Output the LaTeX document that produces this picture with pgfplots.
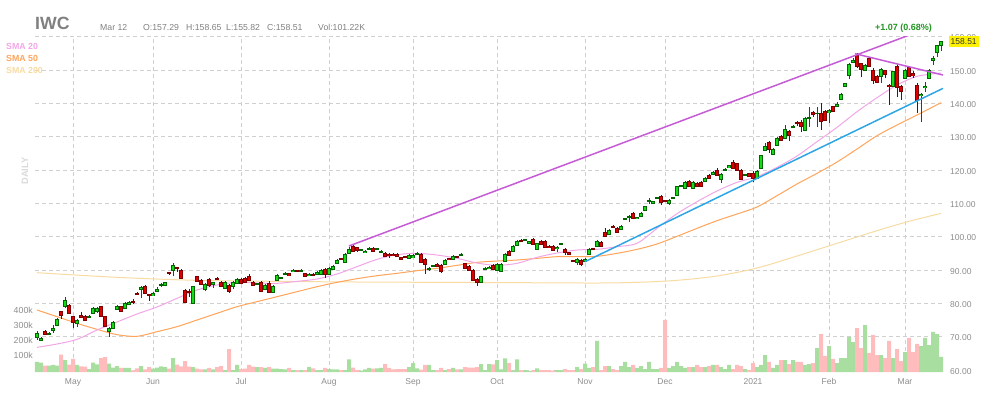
\documentclass[border=0pt]{standalone}
\usepackage{pgfplots}
\pgfplotsset{compat=1.18}
\usepackage{pgfplotstable}
\usepackage{fontspec}
\setmainfont{Liberation Sans}

\definecolor{txtgray}{RGB}{140,140,140}
\definecolor{hdrgray}{RGB}{128,128,128}
\definecolor{gridgray}{RGB}{208,208,208}
\definecolor{upfill}{RGB}{20,220,20}
\definecolor{upline}{RGB}{0,100,0}
\definecolor{dnfill}{RGB}{222,0,0}
\definecolor{dnline}{RGB}{125,0,0}
\definecolor{volup}{RGB}{168,222,160}
\definecolor{voldn}{RGB}{255,188,188}
\definecolor{smaA}{RGB}{242,166,230}
\definecolor{smaB}{RGB}{255,164,90}
\definecolor{smaC}{RGB}{247,219,163}
\definecolor{trendP}{RGB}{198,91,214}
\definecolor{trendB}{RGB}{46,166,230}
\definecolor{upgreen}{RGB}{34,150,34}
\definecolor{dailygray}{RGB}{218,218,218}

\pgfplotstableread{
i o h l c v
0 69.9 71.7 69.0 71.1 67
1 69.0 70.0 68.6 69.6 62
2 71.7 71.9 70.6 70.8 42
3 70.8 71.3 70.4 71.0 42
4 72.0 73.4 71.0 72.6 47
5 73.5 75.6 73.3 75.3 42
6 77.5 77.8 75.2 76.5 116
7 79.0 81.8 78.5 81.0 80
8 79.5 79.7 76.8 77.0 49
9 76.0 76.3 72.6 74.4 87
10 74.0 75.4 72.8 75.0 47
11 76.4 77.3 75.5 75.9 38
12 76.2 76.4 74.8 75.0 36
13 75.9 76.4 75.6 76.1 20
14 77.0 78.8 76.8 78.5 62
15 77.5 78.9 77.2 78.6 51
16 79.0 79.2 75.8 76.0 93
17 76.0 76.2 72.8 73.0 100
18 71.5 73.0 69.8 72.5 56
19 72.6 74.6 72.4 74.4 29
20 78.3 79.5 78.0 79.2 40
21 79.0 79.2 77.5 77.7 27
22 78.6 80.3 78.4 80.0 27
23 79.8 80.6 79.5 80.3 27
24 80.5 81.2 79.9 80.3 11
25 83.0 83.4 82.4 82.7 24
26 84.2 85.2 81.5 84.8 40
27 85.2 85.5 82.8 83.0 18
28 82.7 82.9 80.8 82.4 33
29 82.3 83.3 82.1 83.0 22
30 83.7 84.9 83.5 84.2 29
31 85.3 86.0 85.0 85.6 38
32 85.3 86.4 85.1 86.2 33
33 89.2 89.5 88.6 88.9 22
34 90.0 92.2 88.3 91.5 93
35 90.7 91.0 89.5 90.4 49
36 90.0 90.2 87.4 87.6 38
37 84.0 84.2 80.2 80.4 73
38 83.7 84.3 82.0 83.4 36
39 80.0 85.3 79.8 85.0 33
40 88.0 88.3 86.3 86.5 22
41 87.0 87.2 85.5 85.8 18
42 84.3 86.0 83.8 85.8 18
43 87.3 87.5 85.0 85.5 27
44 85.8 86.5 84.6 86.2 18
45 87.5 87.8 87.0 87.2 33
46 86.4 86.6 84.8 85.0 40
47 84.6 86.6 84.4 86.4 13
48 85.5 85.7 83.0 83.7 153
49 85.0 86.6 84.3 86.4 13
50 86.0 87.5 85.8 87.3 47
51 87.3 87.5 85.8 86.0 20
52 87.6 87.8 86.2 86.4 22
53 88.2 88.8 86.8 87.0 47
54 86.4 86.6 85.3 85.5 36
55 85.7 86.2 85.4 85.9 33
56 86.4 86.6 83.5 83.7 33
57 84.3 85.8 84.1 85.5 27
58 86.0 86.8 83.2 83.4 33
59 83.4 85.4 83.2 85.2 22
60 87.0 88.7 86.8 88.5 22
61 87.5 88.0 87.3 87.7 20
62 88.7 89.3 88.4 88.9 18
63 88.9 89.1 88.1 88.3 27
64 89.5 90.2 89.3 90.0 13
65 89.9 90.1 89.5 89.7 11
66 89.7 90.4 89.4 89.9 13
67 89.0 89.2 87.8 88.0 13
68 88.4 89.0 88.2 88.8 33
69 88.7 89.1 88.3 88.5 24
70 88.6 89.6 88.4 89.4 11
71 88.6 90.2 88.4 90.0 13
72 90.3 90.5 87.5 88.6 27
73 88.8 90.8 88.6 90.6 20
74 90.3 91.5 90.1 91.2 18
75 92.0 93.2 91.8 93.0 18
76 93.5 93.7 93.0 93.2 13
77 92.4 95.0 92.2 94.8 13
78 95.0 96.8 94.8 96.3 84
79 97.2 97.6 95.5 95.7 29
80 96.8 97.0 95.5 95.8 13
81 95.9 96.4 95.7 96.1 9
82 95.3 95.9 95.1 95.7 18
83 96.2 96.8 96.0 96.4 27
84 96.6 96.8 95.5 95.7 22
85 96.2 96.6 95.9 96.4 24
86 95.3 95.9 95.0 95.5 27
87 95.1 95.3 94.0 94.2 53
88 94.8 95.0 93.6 94.3 27
89 94.8 95.0 94.2 94.4 18
90 94.8 95.0 93.8 94.0 20
91 93.8 94.0 93.1 93.3 20
92 94.1 94.3 93.7 93.9 20
93 93.6 94.7 93.4 94.5 33
94 93.7 94.8 93.5 94.4 60
95 94.7 95.3 94.5 94.9 24
96 94.8 95.0 92.2 92.4 16
97 93.3 93.5 88.8 91.8 47
98 90.2 90.8 89.8 90.4 47
99 91.1 91.6 90.8 91.3 13
100 91.8 92.0 90.8 91.0 13
101 91.5 91.7 89.0 89.7 27
102 91.8 93.2 91.6 93.0 13
103 93.5 93.7 92.9 93.1 20
104 93.3 94.4 93.1 94.2 27
105 94.1 94.3 93.7 93.9 18
106 94.4 95.0 94.2 94.6 18
107 92.0 92.2 90.4 90.6 33
108 91.2 91.4 89.8 90.0 29
109 90.0 90.2 86.8 87.0 29
110 87.3 87.5 85.3 86.4 33
111 86.4 88.2 86.2 88.0 53
112 90.2 90.8 89.9 90.4 13
113 90.5 91.1 90.3 90.9 53
114 91.5 91.7 90.1 90.3 51
115 90.0 92.0 89.8 91.8 80
116 89.7 92.0 89.5 91.8 18
117 92.7 95.0 92.5 94.8 91
118 95.7 95.9 94.3 94.5 60
119 95.7 97.4 95.5 97.2 11
120 97.5 98.9 97.3 98.7 84
121 98.8 99.2 98.3 98.5 11
122 98.9 99.4 98.7 99.1 13
123 98.1 98.8 97.9 98.6 7
124 99.3 99.5 97.6 97.8 11
125 96.3 98.2 96.1 98.0 24
126 98.7 98.9 97.6 97.8 13
127 98.7 98.9 96.7 96.9 13
128 97.2 97.4 96.6 96.8 13
129 97.2 97.4 95.8 96.0 7
130 96.4 97.1 95.5 96.9 13
131 97.7 98.2 97.5 97.9 13
132 96.3 96.5 94.5 95.4 20
133 95.3 95.5 94.6 94.8 13
134 92.9 93.1 92.4 92.6 13
135 92.4 93.5 91.5 93.3 33
136 93.0 93.2 91.2 91.8 20
137 92.7 93.5 92.5 93.3 56
138 94.8 96.5 94.6 96.3 27
139 96.4 96.6 96.0 96.2 33
140 97.2 98.9 97.0 98.7 207
141 98.4 98.6 96.8 97.0 13
142 101.4 102.5 99.8 100.0 40
143 100.8 102.2 100.6 102.0 40
144 103.2 103.5 102.5 102.9 20
145 102.6 102.8 101.2 101.4 13
146 102.3 103.4 102.1 103.2 40
147 105.2 105.7 105.0 105.4 67
148 105.9 106.4 104.5 106.2 33
149 107.1 107.5 105.4 105.6 47
150 105.4 106.0 105.2 105.8 27
151 106.2 107.5 106.0 107.0 40
152 108.0 109.2 107.8 109.0 20
153 110.6 111.5 109.8 110.8 67
154 110.1 110.7 109.9 110.5 20
155 111.5 112.0 111.3 111.7 20
156 112.0 112.4 109.6 110.4 27
157 110.9 111.1 110.4 110.6 347
158 110.0 111.2 109.5 111.0 27
159 111.5 112.0 111.3 111.7 40
160 112.5 115.3 112.3 115.0 67
161 115.1 115.6 114.8 115.3 40
162 114.6 116.6 114.4 116.4 27
163 116.7 116.9 114.8 115.0 33
164 114.6 116.6 114.4 116.4 33
165 116.1 116.3 114.8 115.0 47
166 116.4 116.6 115.0 115.2 33
167 116.7 117.8 116.5 117.6 33
168 118.5 118.7 117.4 117.6 40
169 118.8 119.6 118.6 119.4 47
170 120.0 120.5 118.3 118.5 47
171 117.3 119.0 116.2 118.8 33
172 119.9 120.5 119.7 120.1 20
173 120.8 121.5 120.6 121.3 47
174 122.4 122.9 120.4 120.6 20
175 122.0 122.2 119.8 120.0 47
176 120.0 120.2 117.1 117.3 40
177 118.4 118.9 118.2 118.6 20
178 119.0 119.2 117.8 118.0 13
179 119.1 119.6 116.5 117.6 60
180 117.6 120.0 117.4 119.7 33
181 120.6 124.5 120.4 124.3 47
182 126.0 128.2 125.8 127.2 113
183 128.4 128.6 125.1 126.3 67
184 124.8 126.5 124.6 126.3 27
185 127.5 129.8 127.3 129.6 47
186 130.2 130.4 128.8 129.0 80
187 129.6 133.5 129.4 132.3 80
188 131.7 131.9 128.6 130.5 53
189 132.9 133.4 132.7 133.1 80
190 134.2 134.8 133.2 133.9 67
191 134.2 135.0 131.3 133.0 67
192 132.0 135.9 131.8 135.6 47
193 135.6 138.8 133.0 135.8 53
194 137.4 137.6 136.0 136.6 60
195 136.9 139.0 133.0 137.1 160
196 137.1 140.2 132.0 134.5 253
197 137.7 138.0 134.6 135.0 107
198 137.2 138.2 134.0 137.8 173
199 139.0 139.2 137.5 137.7 87
200 139.0 140.3 138.8 139.8 60
201 141.3 143.0 141.1 142.8 93
202 145.0 146.2 144.8 146.0 93
203 148.3 152.0 147.2 151.8 233
204 152.2 153.6 152.0 153.0 200
205 154.5 155.0 150.6 151.0 293
206 152.0 152.2 148.0 150.3 160
207 149.8 151.7 149.6 151.5 313
208 153.6 154.0 151.0 151.2 127
209 150.0 150.6 145.7 147.0 247
210 148.2 148.4 146.2 146.4 113
211 148.2 150.5 146.0 150.3 113
212 149.8 150.0 147.5 148.6 93
213 145.4 145.8 139.6 145.0 207
214 145.0 149.8 144.8 149.5 93
215 151.2 151.8 141.8 144.7 153
216 145.2 145.4 141.0 143.5 73
217 147.4 150.3 147.2 150.0 133
218 150.7 151.0 147.8 148.0 227
219 149.0 149.6 147.5 148.3 133
220 145.5 146.0 137.0 141.0 187
221 142.3 143.0 134.5 142.7 173
222 144.8 146.5 143.5 145.2 227
223 147.4 150.3 147.2 150.0 180
224 152.8 154.2 151.5 153.6 267
225 155.2 157.6 154.0 157.3 253
226 157.29 158.65 155.82 158.51 101.22
}\data

\pgfplotsset{
  base/.style={
    at={(35pt,28pt)}, anchor=south west,
    scale only axis, width=908pt, height=335.3pt,
    xmin=-0.5, xmax=226.5,
    axis line style={draw=none},
    major tick length=0pt,
    enlargelimits=false,
    /pgf/number format/assume math mode=true,
  },
}

\begin{document}
\begin{tikzpicture}
\useasboundingbox (0,0) rectangle (990pt,400pt);

% grid and price / date labels
\begin{axis}[base, ymin=59.4, ymax=160,
  xtick={9,29,51,73,94,115,137,157,179,198,217},
  xticklabels={May,Jun,Jul,Aug,Sep,Oct,Nov,Dec,2021,Feb,Mar},
  ytick={60,70,...,160},
  yticklabel pos=right,
  scaled y ticks=false,
  y tick label style={/pgf/number format/fixed, /pgf/number format/fixed zerofill, /pgf/number format/precision=2},
  xmajorgrids, ymajorgrids,
  grid style={gridgray, dash pattern=on 4pt off 3pt, line width=0.8pt},
  tick label style={font=\fontsize{8.5}{10}\selectfont, text=txtgray, inner sep=0pt},
  xticklabel style={anchor=base, yshift=-12pt, font=\fontsize{8.5}{10}\selectfont},
  yticklabel style={anchor=base west, xshift=7pt, yshift=-4pt},
]
\addplot[draw=none, forget plot] coordinates {(0,100)};
\end{axis}

% volume
\begin{axis}[base, ymin=0, ymax=2235.3,
  xtick=\empty,
  ytick={100,200,300,400}, yticklabels={100k,200k,300k,400k},
  yticklabel style={anchor=base east, xshift=-2pt, yshift=-1.5pt, font=\fontsize{8.8}{10}\selectfont, text=txtgray, inner sep=0pt},
]
\addplot[ybar, bar width=1, bar shift=0pt, fill=volup, draw=none, forget plot]
  table[x=i, y expr={\thisrow{c}>=\thisrow{o} ? \thisrow{v} : nan}] {\data};
\addplot[ybar, bar width=1, bar shift=0pt, fill=voldn, draw=none, forget plot]
  table[x=i, y expr={\thisrow{c}>=\thisrow{o} ? nan : \thisrow{v}}] {\data};
\end{axis}

% price plots
\begin{axis}[base, ymin=59.4, ymax=160, hide axis]
% SMA 200
\addplot[smaC, line width=1pt, smooth, forget plot] coordinates {
(0,89.2) (20,87.8) (40,86.9) (60,86.6) (80,86.4) (100,86.3) (120,86.2) (140,86.1)
(150,86.3) (160,86.9) (170,88.2) (180,90.6) (190,94.2) (200,98.0) (210,101.8) (218,104.6) (226,107.0)};
% SMA 50
\addplot[smaB, line width=1pt, smooth, forget plot] coordinates {
(0,78.0) (5,76.0) (10,74.0) (15,72.2) (20,70.6) (25,70.1) (30,71.5) (35,73.0) (40,75.0)
(45,77.0) (50,79.0) (55,80.5) (60,82.0) (65,83.5) (70,85.0) (75,86.3) (80,87.4) (85,88.3)
(90,89.0) (95,89.8) (100,90.5) (105,91.4) (110,92.3) (115,92.7) (120,93.0) (125,93.5)
(130,94.0) (135,94.0) (140,94.1) (145,95.0) (150,96.2) (155,97.8) (160,100.1) (165,102.5)
(170,104.8) (175,106.8) (180,108.9) (185,112.3) (190,115.8) (195,119.0) (200,122.4)
(205,126.3) (210,130.3) (215,133.5) (220,136.5) (226,140.2)};
% SMA 20
\addplot[smaA, line width=1pt, smooth, forget plot] coordinates {
(0,66.8) (5,67.8) (10,69.2) (15,72.0) (20,74.4) (25,76.8) (30,78.9) (35,81.5) (40,84.0)
(45,85.5) (50,86.3) (55,86.1) (60,86.0) (65,86.6) (70,87.3) (75,88.8) (80,91.0) (85,93.2)
(90,94.6) (95,95.0) (100,94.5) (105,93.5) (110,92.1) (115,91.4) (120,92.0) (125,93.8)
(130,95.1) (135,96.0) (140,96.2) (145,97.0) (150,98.0) (155,102.5) (160,106.9) (165,110.5)
(170,113.7) (175,116.3) (180,118.0) (185,120.8) (190,124.2) (195,128.5) (200,132.8)
(205,137.5) (210,141.7) (215,145.5) (220,148.1) (226,149.1)};

% wicks
\addplot[draw=none, mark=none, forget plot,
  error bars/y dir=both, error bars/y explicit, error bars/error mark=none,
  error bars/error bar style={draw=upline, line width=0.9pt}]
  table[x=i, y expr={\thisrow{c}>=\thisrow{o} ? (\thisrow{h}+\thisrow{l})/2 : nan},
        y error expr={(\thisrow{h}-\thisrow{l})/2}] {\data};
\addplot[draw=none, mark=none, forget plot,
  error bars/y dir=both, error bars/y explicit, error bars/error mark=none,
  error bars/error bar style={draw=dnline, line width=0.9pt}]
  table[x=i, y expr={\thisrow{c}>=\thisrow{o} ? nan : (\thisrow{h}+\thisrow{l})/2},
        y error expr={(\thisrow{h}-\thisrow{l})/2}] {\data};
% bodies: outline
\addplot[draw=none, mark=none, forget plot,
  error bars/y dir=both, error bars/y explicit, error bars/error mark=none,
  error bars/error bar style={draw=upline, line width=3.2pt}]
  table[x=i, y expr={\thisrow{c}>=\thisrow{o} ? (\thisrow{o}+\thisrow{c})/2 : nan},
        y error expr={abs(\thisrow{c}-\thisrow{o})/2+0.15}] {\data};
\addplot[draw=none, mark=none, forget plot,
  error bars/y dir=both, error bars/y explicit, error bars/error mark=none,
  error bars/error bar style={draw=dnline, line width=3.2pt}]
  table[x=i, y expr={\thisrow{c}>=\thisrow{o} ? nan : (\thisrow{o}+\thisrow{c})/2},
        y error expr={abs(\thisrow{c}-\thisrow{o})/2+0.15}] {\data};
% bodies: fill
\addplot[draw=none, mark=none, forget plot,
  error bars/y dir=both, error bars/y explicit, error bars/error mark=none,
  error bars/error bar style={draw=upfill, line width=1.5pt}]
  table[x=i, y expr={\thisrow{c}>=\thisrow{o} ? (\thisrow{o}+\thisrow{c})/2 : nan},
        y error expr={max(abs(\thisrow{c}-\thisrow{o})/2-0.15,0)}] {\data};
\addplot[draw=none, mark=none, forget plot,
  error bars/y dir=both, error bars/y explicit, error bars/error mark=none,
  error bars/error bar style={draw=dnfill, line width=1.5pt}]
  table[x=i, y expr={\thisrow{c}>=\thisrow{o} ? nan : (\thisrow{o}+\thisrow{c})/2},
        y error expr={max(abs(\thisrow{c}-\thisrow{o})/2-0.15,0)}] {\data};

% trend lines
\addplot[trendP, line width=1.5pt, forget plot] coordinates {(78,97.2) (226.5,164.3)};
\addplot[trendP, line width=1.5pt, forget plot] coordinates {(204.5,154.9) (226.5,148.5)};
\addplot[trendB, line width=1.5pt, forget plot] coordinates {(137,92.5) (226.5,144.5)};
\end{axis}

% header
\node[anchor=base west, inner sep=0pt, text=hdrgray, font=\fontsize{17.7}{20}\selectfont\bfseries] at (35pt,370.5pt) {IWC};
\begin{scope}[every node/.style={anchor=base west, inner sep=0pt, text=hdrgray, font=\fontsize{8.7}{10}\selectfont}]
\node at (100pt,370pt) {Mar 12};
\node at (143pt,370pt) {O:157.29};
\node at (186pt,370pt) {H:158.65};
\node at (226pt,370pt) {L:155.82};
\node at (267pt,370pt) {C:158.51};
\node at (318pt,370pt) {Vol:101.22K};
\end{scope}
\node[anchor=base east, inner sep=0pt, text=upgreen, font=\fontsize{9}{10}\selectfont\bfseries] at (932pt,370pt) {+1.07 (0.68\%)};

% SMA legend
\begin{scope}[every node/.style={anchor=base west, inner sep=0pt, font=\fontsize{8.8}{10}\selectfont\bfseries}]
\node[text=smaA] at (6pt,350pt) {SMA 20};
\node[text=smaB] at (6pt,338.2pt) {SMA 50};
\node[text=smaC] at (6pt,326.5pt) {SMA 200};
\end{scope}

\node[rotate=90, inner sep=0pt, text=dailygray, font=\fontsize{9.3}{10}\selectfont\bfseries] at (25pt,229pt) {DAILY};

% last price box
\node[anchor=west, fill=yellow, inner xsep=2pt, inner ysep=0pt, minimum height=11pt, text=black!80, font=\fontsize{8.5}{10}\selectfont] at (948.5pt,358.3pt) {158.51};
\end{tikzpicture}
\end{document}
